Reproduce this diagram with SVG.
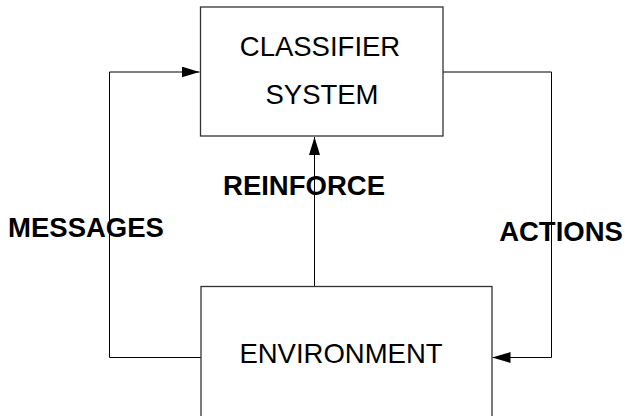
<svg xmlns="http://www.w3.org/2000/svg" width="625" height="416" viewBox="0 0 625 416">
  <style>
    .box { fill: #ffffff; stroke: #333333; stroke-width: 1.3; }
    .conn { fill: none; stroke: #000000; stroke-width: 1; }
    .lbl { font-family: "Liberation Sans", Arial, sans-serif; font-size: 27.5px; fill: #000000; text-anchor: middle; }
    .blbl { font-family: "Liberation Sans", Arial, sans-serif; font-size: 27.5px; font-weight: bold; fill: #000000; text-anchor: middle; }
  </style>
  <defs>
    <marker id="arrow" markerUnits="userSpaceOnUse" markerWidth="18" markerHeight="11" refX="18" refY="5.5" orient="auto">
      <path d="M0,0 L18,5.5 L0,11 z" fill="#000000"/>
    </marker>
  </defs>
  <rect width="625" height="416" fill="#ffffff"/>
  <g id="connectors">
    <polyline class="conn" points="201,357.5 109.5,357.5 109.5,72 199.5,72" marker-end="url(#arrow)"/>
    <polyline class="conn" points="443,72 551.5,72 551.5,357.5 492.5,357.5" marker-end="url(#arrow)"/>
    <line class="conn" x1="314.5" y1="286.5" x2="314.5" y2="137" marker-end="url(#arrow)"/>
  </g>
  <g id="classifier-system">
    <rect class="box" x="200.5" y="7" width="242.5" height="129"/>
    <text class="lbl" x="320" y="56">CLASSIFIER</text>
    <text class="lbl" x="322" y="104">SYSTEM</text>
  </g>
  <g id="environment">
    <rect class="box" x="201" y="286.5" width="291" height="145"/>
    <text class="lbl" x="341" y="363">ENVIRONMENT</text>
  </g>
  <g id="labels">
    <text class="blbl" x="304" y="194.5">REINFORCE</text>
    <text class="blbl" x="86" y="237">MESSAGES</text>
    <text class="blbl" x="561" y="241">ACTIONS</text>
  </g>
</svg>
